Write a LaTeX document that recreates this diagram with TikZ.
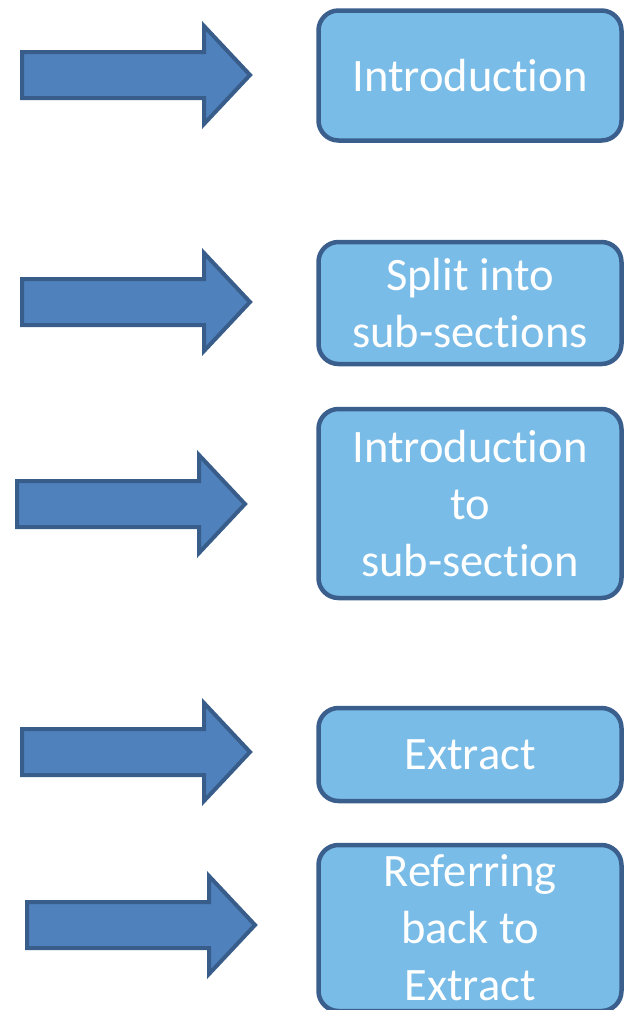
\documentclass[tikz,border=0pt]{standalone}
\usepackage{fontspec}
\setmainfont[Ligatures={NoCommon}]{Carlito}
\definecolor{boxfill}{HTML}{79BCE7}
\definecolor{boxedge}{HTML}{3A5F8D}
\definecolor{arrowfill}{HTML}{4F81BD}
\definecolor{arrowedge}{HTML}{385D8A}
\begin{document}
\begin{tikzpicture}[x=1pt,y=-1pt,
  stepbox/.style={draw=boxedge, line width=4.5pt, fill=boxfill,
    rounded corners=20pt, text=white, align=center,
    font=\fontsize{46.5}{57}\selectfont, inner sep=0pt,
    minimum width=303pt},
  blockarrow/.pic={
    \draw[draw=arrowedge, fill=arrowfill, line width=4pt]
      (0,-23) -- (182,-23) -- (182,-49) -- (228,0) -- (182,49)
      -- (182,23) -- (0,23) -- cycle;}
]
\useasboundingbox (0,0) rectangle (627,1010);
\clip (0,0) rectangle (627,1010);

% right-pointing block arrows
\pic (a1) at (22,75)  {blockarrow};
\pic (a2) at (22,302) {blockarrow};
\pic (a3) at (17,504) {blockarrow};
\pic (a4) at (22,752) {blockarrow};
\pic (a5) at (27,925) {blockarrow};

% step boxes
\node[stepbox, minimum height=130pt] (intro)  at (470,75.5)  {Introduction};
\node[stepbox, minimum height=122pt] (split)  at (470,303)   {Split into\\sub-sections};
\node[stepbox, minimum height=189pt] (subint) at (470,503.5) {Introduction\\to\\sub-section};
\node[stepbox, minimum height=93pt]  (extr)   at (470,754.5) {Extract};
\node[stepbox, minimum height=166pt] (refer)  at (470,928)   {Referring\\back to\\Extract};
\end{tikzpicture}
\end{document}
